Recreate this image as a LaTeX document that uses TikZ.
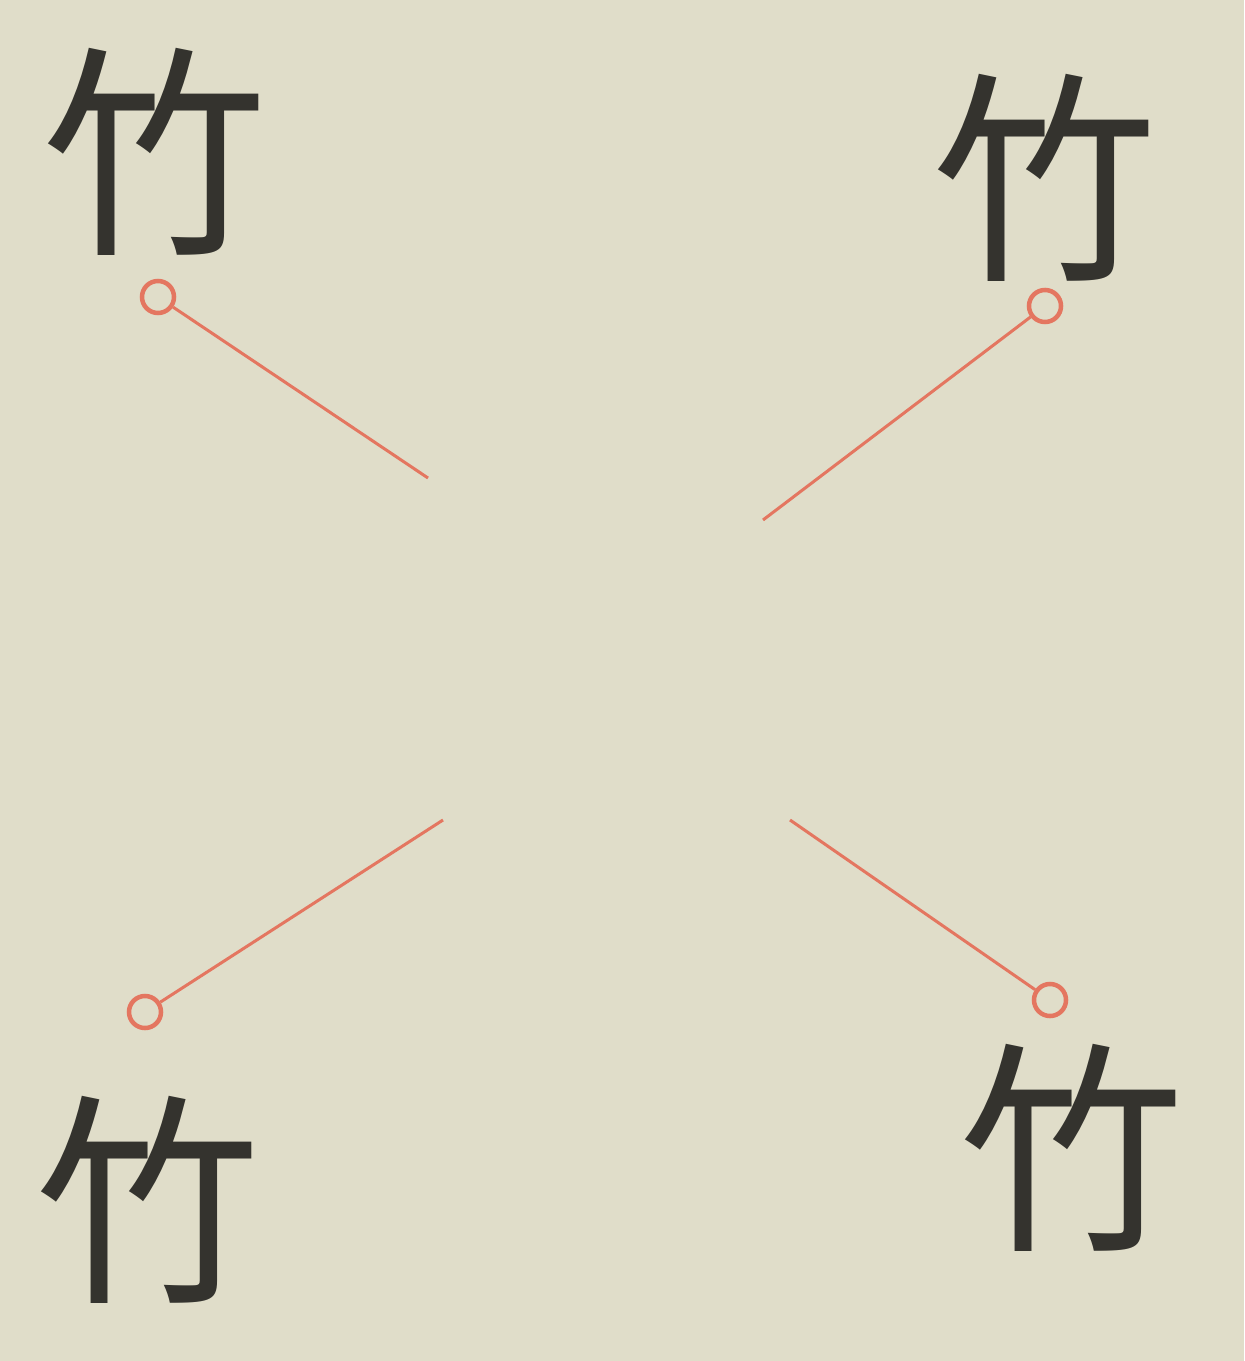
\documentclass[tikz,border=0pt]{standalone}
\usepackage{fontspec}
\newfontfamily\cjk{Noto Sans CJK SC}
\usepackage{tikz}
\usetikzlibrary{positioning}
\definecolor{cPaper}{RGB}{224,221,201}
\definecolor{cInk}{RGB}{52,51,46}
\definecolor{cRed}{RGB}{228,118,96}

\begin{document}
\begin{tikzpicture}[x=0.01cm, y=-0.01cm,
            chr/.style={inner sep=0pt, text=cInk, font=\cjk\fontsize{64}{64}\selectfont},
            pin/.style={circle, draw=cRed, line width=0.45mm, minimum size=3.2mm, inner sep=0pt},
            ln/.style={draw=cRed, line width=0.3mm}]
            \fill[cPaper] (0,0) rectangle (1244,1361);
            \useasboundingbox (0,0) rectangle (1244,1361);
            % characters
            \node[chr] (chTL) at (155,152)  {竹};
            \node[chr] (chTR) at (1045,178) {竹};
            \node[chr] (chBL) at (148,1200) {竹};
            \node[chr] (chBR) at (1072,1148) {竹};
            % pins and lines
            \node[pin] (pinTL) at (158,297)  {};
            \node[pin] (pinTR) at (1045,306) {};
            \node[pin] (pinBL) at (145,1012) {};
            \node[pin] (pinBR) at (1050,1000) {};
            \coordinate (endTL) at (428,478);
            \coordinate (endTR) at (763,520);
            \coordinate (endBL) at (443,820);
            \coordinate (endBR) at (790,820);
            \draw[ln] (pinTL) -- (endTL);
            \draw[ln] (pinTR) -- (endTR);
            \draw[ln] (pinBL) -- (endBL);
            \draw[ln] (pinBR) -- (endBR);
        \end{tikzpicture}
\end{document}
